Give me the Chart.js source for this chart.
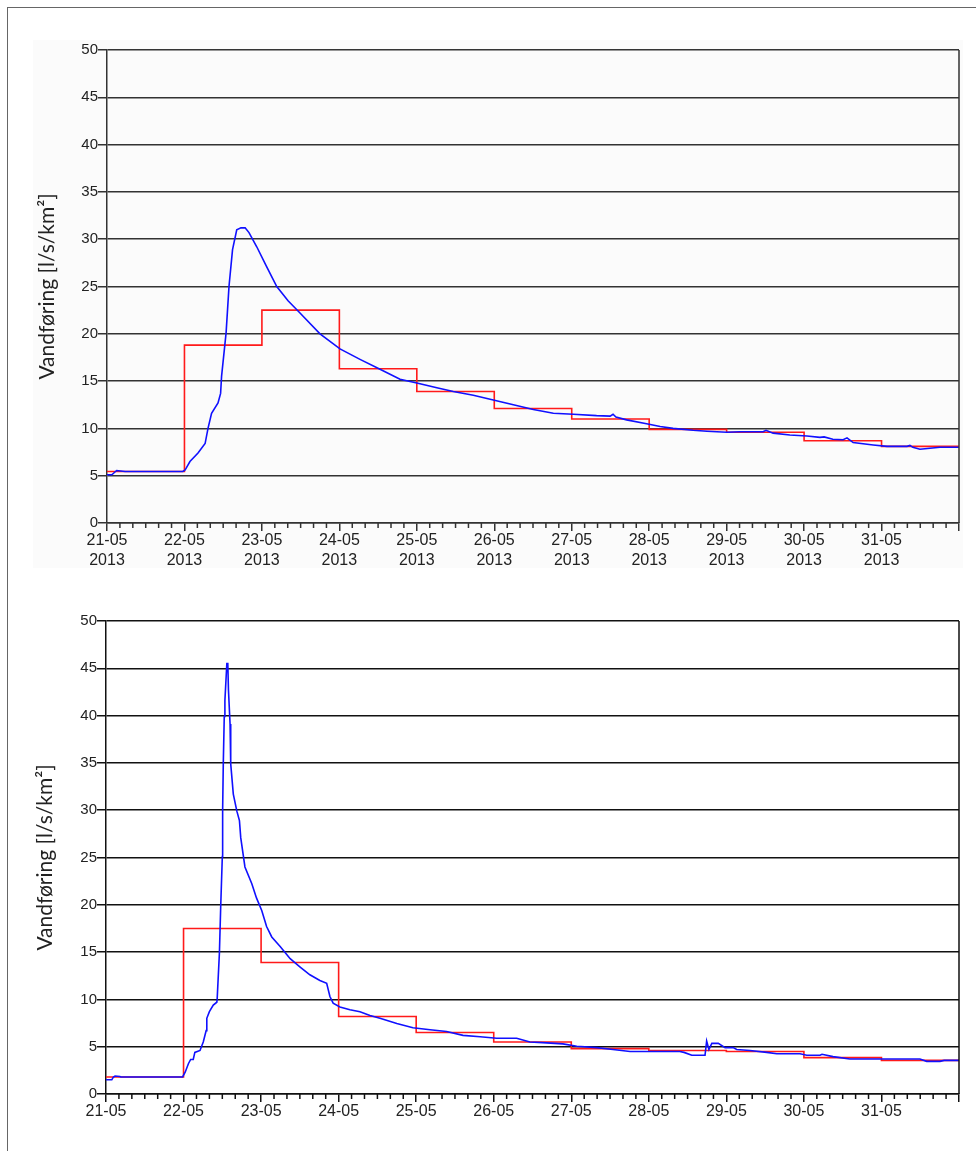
<!DOCTYPE html>
<html>
<head>
<meta charset="utf-8">
<script src="https://cdn.jsdelivr.net/npm/chart.js@4.4.1/dist/chart.umd.min.js"></script>
<style>
  body { margin: 0; background: #fff; width: 976px; height: 1151px; position: relative; overflow: hidden; }
  #moldura { position: absolute; left: 7px; top: 7px; width: 980px; height: 1160px; border-left: 1px solid #666; border-top: 1px solid #666; }
  #fundoTopo { position: absolute; left: 33px; top: 40px; width: 930px; height: 528px; background: #fbfbfb; }
  #boxTopo { position: absolute; left: 0; top: 0; width: 976px; height: 580px; }
  #boxBaixo { position: absolute; left: 0; top: 580px; width: 976px; height: 571px; }
</style>
</head>
<body>
<div id="moldura"></div>
<div id="fundoTopo"></div>
<div id="boxTopo"><canvas id="graficoTopo"></canvas></div>
<div id="boxBaixo"><canvas id="graficoBaixo"></canvas></div>
<script>
// dias (rótulos do eixo x), um por 24 h a partir de 21-05 00:00
const dias = ['21-05', '22-05', '23-05', '24-05', '25-05', '26-05', '27-05', '28-05', '29-05', '30-05', '31-05'];
const ano = '2013';
const ticksY = [0, 5, 10, 15, 20, 25, 30, 35, 40, 45, 50];

// medias diarias (vermelho), uma por dia
const mediaTopo = [5.45, 18.8, 22.5, 16.3, 13.9, 12.1, 11.0, 9.9, 9.6, 8.7, 8.1];
const mediaBaixo = [1.8, 17.5, 13.9, 8.2, 6.5, 5.5, 4.8, 4.6, 4.5, 3.85, 3.55];

// vazao continua (azul): [hora desde 21-05 00:00, l/s/km2]
const vazaoTopo = [
  [0, 5.1], [1.5, 5.1], [3.0, 5.55], [5.6, 5.45], [23.5, 5.45], [24.2, 5.6], [25.7, 6.5],
  [28.2, 7.4], [30.4, 8.4], [31.3, 10.0], [32.4, 11.6], [34.4, 12.7], [35.2, 13.7], [35.5, 15.5],
  [36.9, 20.1], [37.8, 25.0], [38.9, 28.9], [40.2, 31.0], [41.5, 31.2], [42.8, 31.2], [44.0, 30.7],
  [46.4, 29.2], [49.3, 27.2], [52.6, 25.0], [56.1, 23.5], [59.8, 22.2], [66.0, 20.0], [72.2, 18.4],
  [78.4, 17.3], [84.6, 16.25], [90.8, 15.2], [96.0, 14.8], [102.2, 14.3], [107.3, 13.9], [113.5, 13.5],
  [119.7, 13.0], [125.9, 12.5], [132.1, 12.0], [138.3, 11.6], [144.5, 11.5], [151.7, 11.35], [155.9, 11.3],
  [156.8, 11.5], [157.7, 11.2], [161.0, 10.9], [167.2, 10.5], [171.4, 10.2], [175.4, 10.0], [181.6, 9.8],
  [185.9, 9.7], [192.1, 9.6], [196.1, 9.65], [203.3, 9.65], [204.2, 9.8], [206.4, 9.5], [211.6, 9.3],
  [216.9, 9.2], [220.9, 9.05], [222.2, 9.1], [224.9, 8.85], [228.1, 8.8], [229.3, 9.0], [231.2, 8.5],
  [237.4, 8.25], [241.7, 8.1], [247.9, 8.1], [248.8, 8.2], [249.7, 8.0], [251.9, 7.8], [255.0, 7.9],
  [258.1, 8.0], [264, 8.0]
];
const vazaoBaixo = [
  [0, 1.5], [1.8, 1.5], [2.3, 1.8], [2.8, 1.9], [4.3, 1.85], [4.6, 1.8], [23.7, 1.8], [24.5, 2.3],
  [25.5, 3.2], [26.2, 3.65], [27.0, 3.65], [27.5, 4.4], [29.1, 4.6], [30.1, 5.5], [31.0, 6.7],
  [31.2, 8.0], [32.0, 8.7], [33.2, 9.4], [34.3, 9.7], [34.4, 10.0], [35.1, 14.9], [35.5, 19.8],
  [36.0, 25.1], [36.1, 30.0], [36.3, 34.9], [36.6, 39.9], [36.8, 41.6], [37.4, 45.5], [37.7, 45.5],
  [37.9, 42.7], [38.4, 39.1], [38.6, 34.9], [39.4, 31.7], [40.5, 29.9], [41.3, 28.9], [41.7, 27.1],
  [43.0, 24.0], [45.1, 22.25], [46.6, 20.7], [48.2, 19.4], [49.7, 17.7], [51.3, 16.6], [53.9, 15.6],
  [57.0, 14.3], [60.0, 13.45], [63.1, 12.6], [66.2, 12.0], [68.3, 11.7], [69.3, 10.3], [70.3, 9.6],
  [72.4, 9.2], [75.5, 8.9], [78.6, 8.7], [81.7, 8.3], [84.8, 8.0], [90.0, 7.45], [95.0, 7.0],
  [100.3, 6.8], [105.4, 6.6], [110.5, 6.2], [115.8, 6.05], [120.9, 5.9], [127.1, 5.9], [131.2, 5.5],
  [136.4, 5.4], [141.4, 5.3], [145.7, 5.05], [151.9, 4.9], [156.9, 4.7], [162.2, 4.5], [168.4, 4.5],
  [177.6, 4.5], [178.9, 4.4], [181.3, 4.1], [185.4, 4.1], [185.9, 5.6], [186.6, 4.7], [187.5, 5.35],
  [189.5, 5.35], [191.6, 4.9], [194.1, 4.9], [195.2, 4.7], [199.3, 4.6], [204.5, 4.4], [207.6, 4.25],
  [214.8, 4.25], [216.9, 4.1], [221.0, 4.1], [221.6, 4.2], [225.0, 3.95], [230.2, 3.7], [239.6, 3.7],
  [251.9, 3.7], [254.0, 3.45], [258.1, 3.45], [259.4, 3.55], [264, 3.55]
];

const horasTotal = dias.length * 24;

// degraus: cada media vale do inicio do dia ate o inicio do seguinte
function degraus(medias) {
  const pts = medias.map((v, i) => ({ x: i * 24, y: v }));
  pts.push({ x: horasTotal, y: medias[medias.length - 1] });
  return pts;
}

// ticks menores (a cada 4 h) e borda direita
const molduraPlugin = {
  id: 'moldura',
  afterDraw(chart, args, opts) {
    const { ctx, chartArea, scales } = chart;
    ctx.save();
    ctx.strokeStyle = opts.color;
    ctx.lineWidth = 1.5;
    ctx.beginPath();
    ctx.moveTo(chartArea.right, chartArea.top);
    ctx.lineTo(chartArea.right, chartArea.bottom);
    for (let h = 4; h < horasTotal; h += 4) {
      if (h % 24 === 0) continue;
      const px = scales.x.getPixelForValue(h);
      ctx.moveTo(px, chartArea.bottom);
      ctx.lineTo(px, chartArea.bottom + 5);
    }
    ctx.stroke();
    ctx.restore();
  }
};

function criarGrafico(id, vazao, medias, cor, comAno, pad, larguraY) {
  return new Chart(document.getElementById(id), {
    type: 'line',
    data: {
      datasets: [{
        label: 'Vandføring',
        data: vazao.map(([x, y]) => ({ x, y })),
        borderColor: '#1010ff',
        borderWidth: 1.6,
        pointRadius: 0,
        tension: 0
      }, {
        label: 'Døgnmiddel',
        data: degraus(medias),
        borderColor: '#ff1a1a',
        borderWidth: 1.6,
        pointRadius: 0,
        stepped: true
      }]
    },
    options: {
      responsive: true,
      maintainAspectRatio: false,
      animation: false,
      layout: { padding: pad },
      plugins: {
        legend: { display: false },
        tooltip: { enabled: false },
        moldura: { color: cor }
      },
      scales: {
        x: {
          type: 'linear',
          min: 0,
          max: horasTotal,
          afterFit: (s) => { s.height = 57; },
          afterBuildTicks: (s) => { s.ticks = dias.concat(['']).map((_, i) => ({ value: i * 24 })); },
          ticks: {
            color: '#222',
            padding: 0,
            maxRotation: 0,
            autoSkip: false,
            font: { family: '"Liberation Sans", Arial, sans-serif', size: 16, lineHeight: 1.25 },
            callback: (v) => {
              const d = dias[v / 24];
              if (!d) return '';
              return comAno ? [d, ano] : d;
            }
          },
          grid: { drawOnChartArea: false, tickLength: 8, color: cor, lineWidth: 1.5 },
          border: { display: true, color: cor, width: 1.5 }
        },
        y: {
          min: 0,
          max: 50,
          afterFit: (s) => { s.width = larguraY; },
          afterBuildTicks: (s) => { s.ticks = ticksY.map((v) => ({ value: v })); },
          ticks: {
            color: '#222',
            padding: 0,
            font: { family: '"Liberation Sans", Arial, sans-serif', size: 15 }
          },
          title: {
            display: true,
            text: 'Vandføring [l/s/km²]',
            color: '#222',
            padding: { top: 4, bottom: 4 },
            font: { family: 'Lato, "Open Sans", sans-serif', size: 21 }
          },
          grid: { color: cor, lineWidth: 1.5, tickLength: 9 },
          border: { display: true, color: cor, width: 1.5 }
        }
      }
    },
    plugins: [molduraPlugin]
  });
}

criarGrafico('graficoTopo', vazaoTopo, mediaTopo, '#333', true, { left: 31, top: 50, right: 17, bottom: 0 }, 76);
criarGrafico('graficoBaixo', vazaoBaixo, mediaBaixo, '#111', false, { left: 29, top: 41, right: 17, bottom: 0 }, 77);
</script>
</body>
</html>
